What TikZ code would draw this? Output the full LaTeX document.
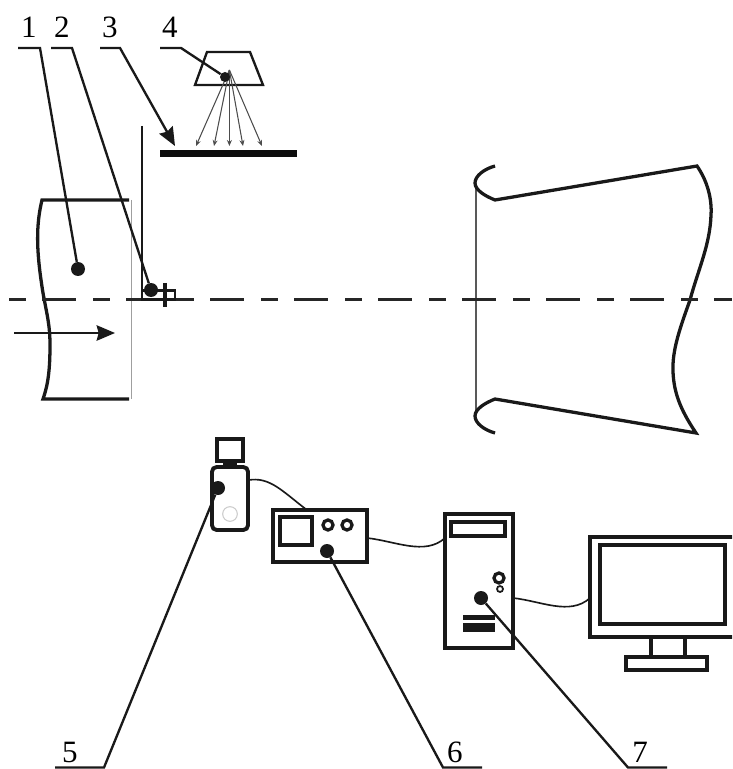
\documentclass[tikz,border=0pt]{standalone}
\usepackage{fontspec}
\setmainfont{Liberation Serif}
\usetikzlibrary{arrows.meta,calc,positioning}
\tikzset{
  num/.style    = {font=\fontsize{26.5}{28}\selectfont, inner sep=0pt},
  leader/.style = {line width=2pt, black!90, line join=miter},
  outline/.style= {line width=2.8pt, black!90},
  thin gray/.style = {line width=0.7pt, gray!75},
  dot/.style    = {circle, fill=black!90, inner sep=0pt, minimum size=0.42cm},
  knob/.style   = {circle, draw=black!90, fill=white, line width=2.8pt, inner sep=0pt, minimum size=0.3cm},
  unit/.style   = {draw=black!90, line width=3.3pt, inner sep=0pt, outer sep=0pt},
  cable/.style  = {line width=1.4pt, black!90},
  ray/.style    = {line width=0.9pt, gray!60!black, -{Stealth[length=1.8mm,width=1.5mm]}},
  axisline/.style = {line width=2.7pt, black!85, dash pattern=on 0.51cm off 0.48cm on 1.02cm off 0.51cm},
}
\begin{document}
\begin{tikzpicture}[x=0.03cm,y=-0.03cm]
  \useasboundingbox (0,0) rectangle (732,769);
  \clip (0,0) rectangle (732,769);
  % inlet, left
  \draw[thin gray] (131,200) -- (131,399);
  \draw[outline] (129,200) -- (42,200) .. controls (36,225) and (36,250) .. (43,293)
      .. controls (47,315) and (50,325) .. (50,345) .. controls (50,370) and (48,385) .. (43,399) -- (129,399);
  \coordinate (flowa) at (14,333);
  \coordinate (flowb) at (115,333);
  \draw[leader,-{Stealth[length=5.5mm,width=4.6mm,inset=0.6mm]}] (flowa) -- (flowb);
  % outlet, right
  \draw[line width=0.9pt, gray!70!black] (476,184) -- (476,415);
  \draw[outline] (495,166) .. controls (484,169) and (475,176) .. (475,183)
      .. controls (475,190) and (485,196) .. (495,200) -- (697,166)
      .. controls (708,182) and (712,200) .. (711,215) .. controls (710,245) and (698,270) .. (690,300)
      .. controls (680,328) and (672,350) .. (673,372) .. controls (674,395) and (682,412) .. (696,433)
      -- (495,399) .. controls (485,403) and (475,409) .. (475,416) .. controls (475,423) and (484,430) .. (495,433);
  % axis
  \draw[axisline] (9,299.5) -- (732,299.5);
  % probe
  \draw[line width=1.4pt, black!90] (142,126) -- (142,299);
  \draw[axisline, dash pattern={}] (127,299.5) -- (193,299.5);
  \draw[leader] (142,290.5) rectangle (175,299.5);
  \draw[line width=3pt, black!90] (165,283) -- (165,307);
  % laser sheet
  \draw[leader] (207,52) -- (250,52) -- (263,85) -- (195,85) -- cycle;
  \node[fill=black!95, inner sep=0pt, minimum width=4.11cm, minimum height=0.21cm] (plate) at (228.5,153.5) {};
  \coordinate (lamp) at (229.4,70);
  \foreach \tx in {196,214,229.4,243,262}
    \draw[ray] (lamp) -- (\tx,146);
  % camera
  \node[unit, rounded corners=4pt, minimum width=1.08cm, minimum height=1.89cm] (camera) at (230,498.5) {};
  \node[unit, minimum width=0.78cm, minimum height=0.66cm] (finder) at (230,450) {};
  \fill[black!90] (223,461) rectangle (237,467);
  \node[circle, draw=gray!40, line width=0.9pt, inner sep=0pt, minimum size=0.44cm] (lens) at (230,514) {};
  % oscilloscope
  \node[unit, minimum width=2.82cm, minimum height=1.56cm] (scope) at (320,536) {};
  \node[unit, minimum width=0.96cm, minimum height=0.84cm] (screen) at (296,531) {};
  \node[knob] (knoba) at (328,525) {};
  \node[knob] (knobb) at (347,525) {};
  % computer
  \node[unit, minimum width=2.04cm, minimum height=4.02cm] (tower) at (479,581) {};
  \node[unit, minimum width=1.62cm, minimum height=0.42cm] (drive) at (478,529) {};
  \node[knob] (power) at (499,578) {};
  \node[circle, draw=black!90, fill=white, line width=1.5pt, inner sep=0pt, minimum size=0.18cm] (led) at (500,589) {};
  \fill[black!90] (463,615) rectangle (495,620);
  \fill[black!90] (463,623) rectangle (495,632);
  % monitor
  \node[unit, minimum width=4.35cm, minimum height=3.0cm] (monitor) at (662.5,587) {};
  \node[unit, minimum width=3.75cm, minimum height=2.37cm] (display) at (662.5,584.5) {};
  \node[unit, minimum width=2.43cm, minimum height=0.39cm] (stand) at (666.5,663.5) {};
  \draw[unit] (651,637) -- (651,657);
  \draw[unit] (685,637) -- (685,657);
  % cables
  \draw[cable] ([yshift=0.55cm]camera.east) .. controls +(22,-4) and +(-24,-18) .. ([xshift=-0.39cm]scope.north);
  \draw[cable] ([yshift=-0.06cm]scope.east) .. controls +(28,3) and +(-20,18) .. ([yshift=1.29cm]tower.west);
  \draw[cable] ([yshift=-0.51cm]tower.east) .. controls +(28,3) and +(-20,18) .. ([yshift=-0.33cm]monitor.west);
  % callouts
  \node[dot] (dota) at (78,269) {};
  \node[dot] (dotb) at (151,290) {};
  \node[dot, minimum size=0.3cm] (dotc) at (225,77) {};
  \node[dot] (dote) at (218,488) {};
  \node[dot] (dotf) at (327,551) {};
  \node[dot] (dotg) at (481,598) {};
  \node[num] (numa) at (29,27) {1};
  \node[num] (numb) at (62,27) {2};
  \node[num] (numc) at (110,27) {3};
  \node[num] (numd) at (170,27) {4};
  \node[num] (nume) at (70,752) {5};
  \node[num] (numf) at (455,752) {6};
  \node[num] (numg) at (640,752) {7};
  \draw[leader] (18,48) -- (40,48) -- (dota);
  \draw[leader] (51,48) -- (72,48) -- (dotb);
  \draw[leader, -{Stealth[length=5.5mm,width=4.6mm,inset=0.6mm]}] (100,48) -- (120,48) -- (175,146);
  \draw[leader] (160,48) -- (181,48) -- (dotc);
  \draw[leader] (55,767.5) -- (104,767.5) -- (dote);
  \draw[leader] (482,767.5) -- (443,767.5) -- (dotf);
  \draw[leader] (667,767.5) -- (628,767.5) -- (dotg);
\end{tikzpicture}
\end{document}
